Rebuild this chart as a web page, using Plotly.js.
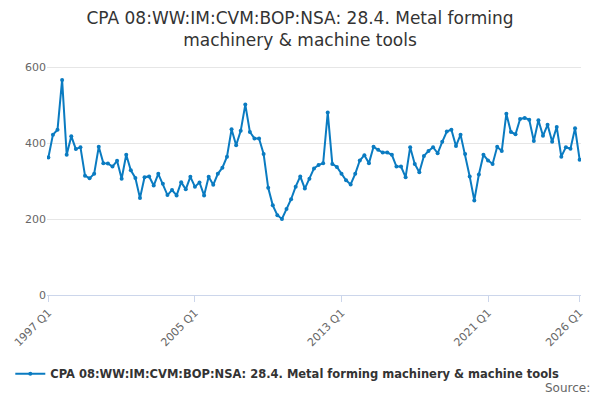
<!DOCTYPE html>
<html>
<head>
<meta charset="utf-8">
<script src="https://cdn.plot.ly/plotly-3.0.1.min.js"></script>
<style>body{margin:0}#plot{width:600px;height:400px}</style>
</head>
<body>
<div id="plot"></div>
<script>
const startYear = 1997;
const values = [
  362, 422, 435, 566, 369, 418, 384, 389, 314, 307, 319, 390, 347, 346, 338, 353,
  306, 369, 328, 308, 255, 310, 312, 288, 319, 293, 263, 276, 262, 297, 278, 311,
  285, 296, 262, 311, 290, 319, 335, 364, 436, 394, 432, 501, 429, 412, 412, 371,
  282, 236, 210, 200, 226, 252, 285, 312, 280, 306, 333, 342, 347, 480, 345, 337,
  319, 302, 291, 319, 354, 368, 347, 390, 382, 375, 375, 369, 338, 338, 310,
  389, 345, 323, 366, 379, 389, 373, 403, 430, 435, 392, 422, 371, 312, 249, 317,
  369, 354, 345, 390, 379, 477, 429, 423, 463, 466, 461, 405, 460, 419, 448, 403,
  442, 364, 389, 385, 439, 356
];
const tickLabels = ['1997 Q1', '2005 Q1', '2013 Q1', '2021 Q1', '2026 Q1'];
const seriesName = 'CPA 08:WW:IM:CVM:BOP:NSA: 28.4. Metal forming machinery & machine tools';

const quarters = values.map((v, i) => (startYear + Math.floor(i / 4)) + ' Q' + (i % 4 + 1));

const trace = {
  x: quarters,
  y: values,
  type: 'scatter',
  mode: 'lines+markers',
  name: seriesName,
  line: { color: '#0a7bc1', width: 2 },
  marker: { color: '#0a7bc1', size: 4 }
};

const layout = {
  width: 600, height: 400,
  margin: { l: 47, r: 19, t: 48, b: 103 },
  font: { family: 'DejaVu Sans, sans-serif', color: '#444' },
  title: { text: 'CPA 08:WW:IM:CVM:BOP:NSA: 28.4. Metal forming<br>machinery & machine tools',
           font: { size: 17, color: '#333' }, x: 0.5, y: 0.94, yanchor: 'middle' },
  xaxis: {
    type: 'category', tickvals: tickLabels, ticktext: tickLabels, tickangle: -45,
    showgrid: false, showline: true, linecolor: '#ccd6eb', ticks: 'outside', tickcolor: '#ccd6eb',
    ticklen: 6, tickfont: { size: 11, color: '#666' }, range: [-0.3, 116.3]
  },
  yaxis: {
    range: [0, 650], tickvals: [0, 200, 400, 600], gridcolor: '#e6e6e6', zeroline: false,
    tickfont: { size: 11, color: '#666' }
  },
  showlegend: true,
  legend: { orientation: 'h', x: 0.45, xanchor: 'center', y: -0.26, yanchor: 'top',
            font: { size: 11.5, color: '#333', weight: 'bold' } },
  annotations: [{ text: 'Source:', xref: 'paper', yref: 'paper', x: 1.02, y: -0.34,
                  xanchor: 'right', yanchor: 'top', showarrow: false,
                  font: { size: 12, color: '#666' } }]
};

Plotly.newPlot('plot', [trace], layout, { displayModeBar: false });
</script>
</body>
</html>
